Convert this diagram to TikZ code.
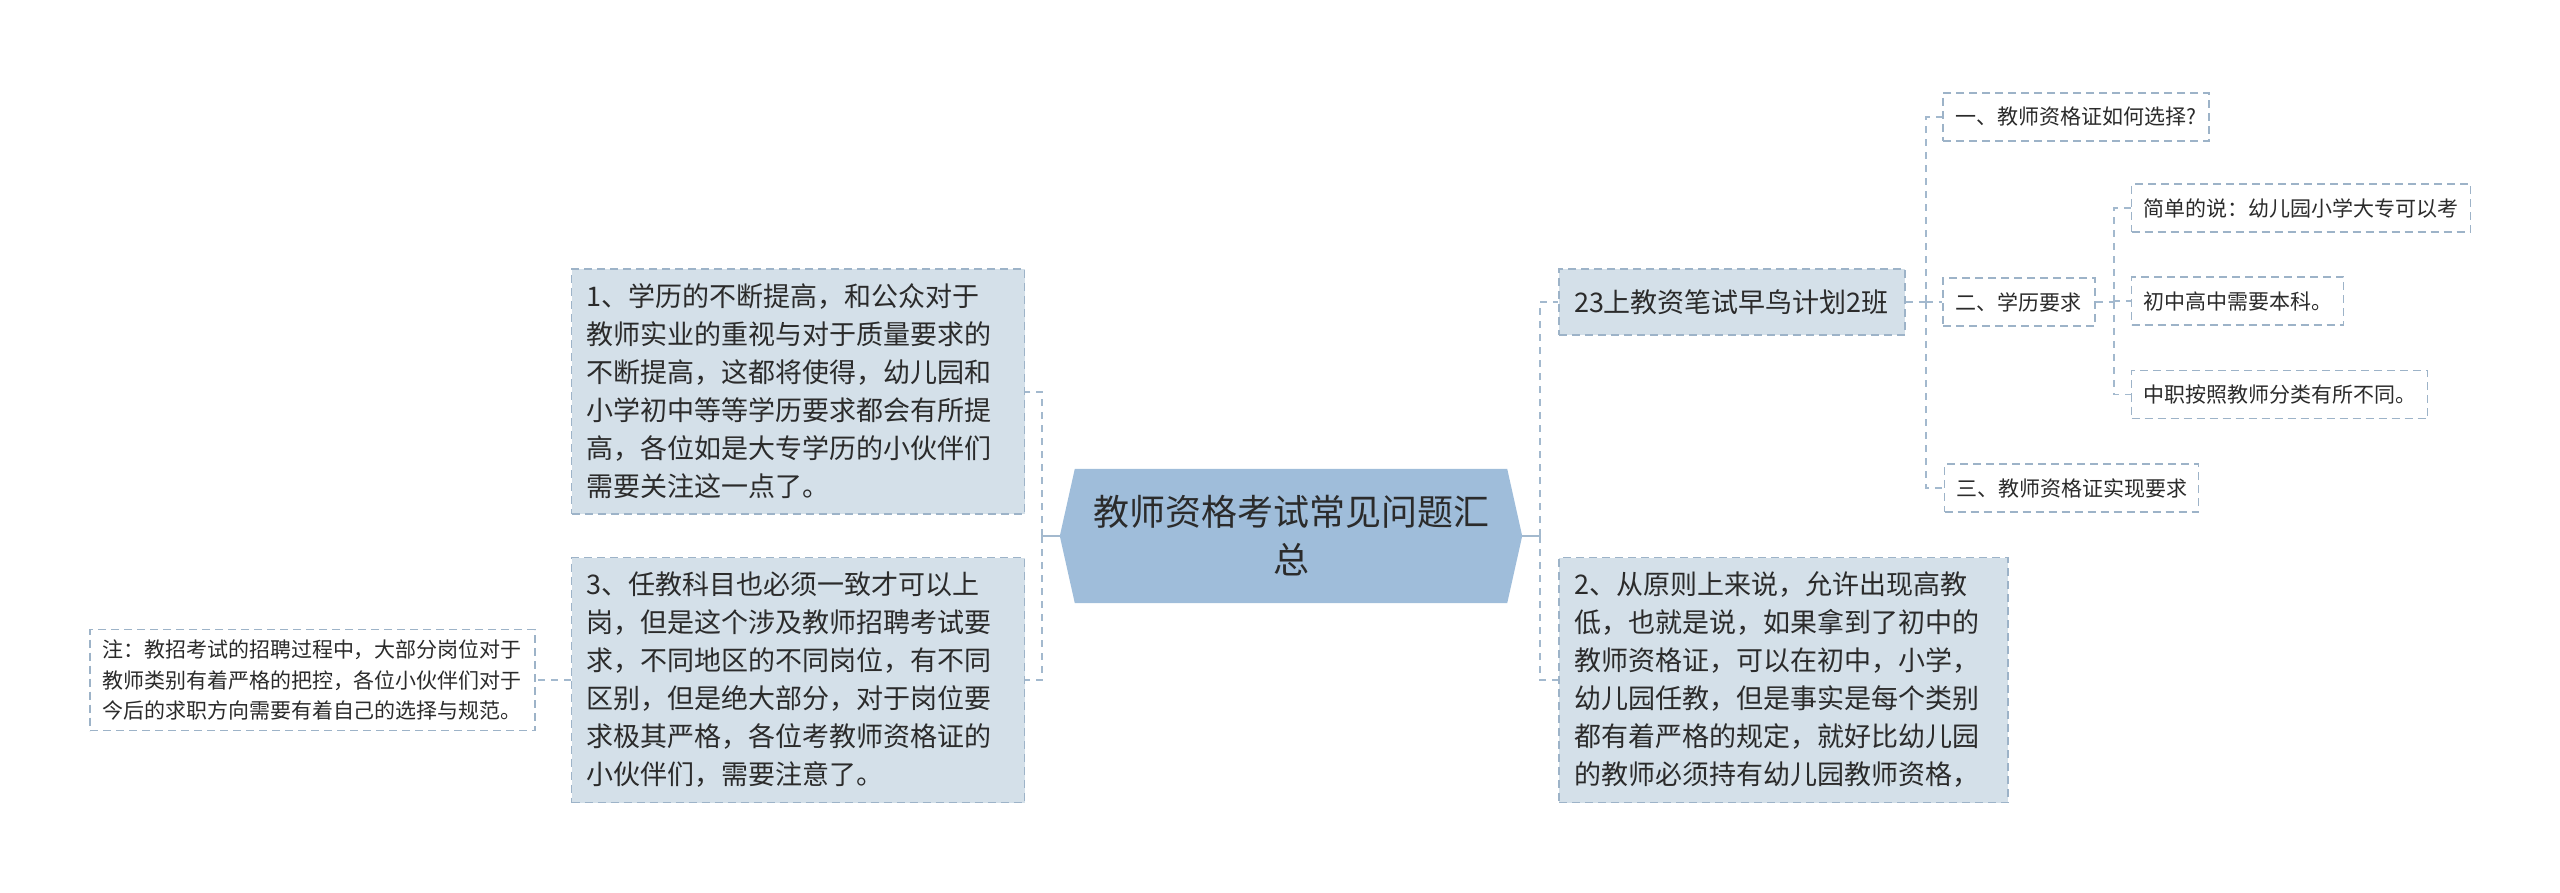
\documentclass[tikz,border=0pt]{standalone}
\usepackage{fontspec}
\setmainfont{Noto Sans CJK SC}
\usetikzlibrary{backgrounds}
\definecolor{boxfill}{HTML}{D4E0E9}
\definecolor{bordercol}{HTML}{9DB3C8}
\definecolor{rootfill}{HTML}{9FBDDA}
\definecolor{linecol}{HTML}{A3B9CE}
\definecolor{txt}{HTML}{2B2B2B}
\tikzset{
  bigbox/.style={draw=bordercol, fill=boxfill, line width=1.5pt, dash pattern=on 8pt off 5pt,
    inner xsep=15pt, inner ysep=0pt, align=left, text=txt,
    font=\fontsize{27}{38}\selectfont},
  smallbox/.style={draw=bordercol, fill=white, line width=1.5pt, dash pattern=on 8pt off 5pt,
    inner xsep=12pt, inner ysep=0pt, align=left, text=txt, minimum height=48pt,
    font=\fontsize{21}{30}\selectfont},
  rootnode/.style={inner sep=0pt, minimum width=462pt, minimum height=134pt, align=center,
    text=txt, font=\fontsize{36}{48}\selectfont},
  mainconn/.style={draw=linecol, line width=2.2pt},
  conn/.style={draw=linecol, line width=2pt, dash pattern=on 7pt off 6pt},
  subconn/.style={draw=linecol, line width=1.6pt, dash pattern=on 7pt off 6pt},
}
\begin{document}
\begin{tikzpicture}[x=1pt,y=-1pt]
\useasboundingbox (0,0) rectangle (2560,893);

% root
\node[rootnode] (root) at (1291,536) {教师资格考试常见问题汇\\总};
\begin{scope}[on background layer]
\fill[rootfill] (root.west) -- ([xshift=15pt]root.north west) -- ([xshift=-15pt]root.north east)
  -- (root.east) -- ([xshift=-15pt]root.south east) -- ([xshift=15pt]root.south west) -- cycle;
\end{scope}

% left big nodes
\node[bigbox, text width=423pt, minimum height=245pt] (n1) at (798,391.5)
 {1、学历的不断提高，和公众对于\\教师实业的重视与对于质量要求的\\不断提高，这都将使得，幼儿园和\\小学初中等等学历要求都会有所提\\高，各位如是大专学历的小伙伴们\\需要关注这一点了。};
\node[bigbox, text width=423pt, minimum height=245pt] (n3) at (798,680)
 {3、任教科目也必须一致才可以上\\岗，但是这个涉及教师招聘考试要\\求，不同地区的不同岗位，有不同\\区别，但是绝大部分，对于岗位要\\求极其严格，各位考教师资格证的\\小伙伴们，需要注意了。};
\node[smallbox, text width=421pt, minimum height=101pt, font=\fontsize{21}{30.5}\selectfont] (note) at (312.5,680)
 {注：教招考试的招聘过程中，大部分岗位对于\\教师类别有着严格的把控，各位小伙伴们对于\\今后的求职方向需要有着自己的选择与规范。};

% right big nodes
\node[bigbox, text width=316pt, minimum height=66pt, inner xsep=15pt] (n23) at (1732,302)
 {23上教资笔试早鸟计划2班};
\node[bigbox, text width=419pt, minimum height=245pt] (n2) at (1783.5,680)
 {2、从原则上来说，允许出现高教\\低，也就是说，如果拿到了初中的\\教师资格证，可以在初中，小学，\\幼儿园任教，但是事实是每个类别\\都有着严格的规定，就好比幼儿园\\的教师必须持有幼儿园教师资格，};

% small right nodes
\node[smallbox, text width=242pt] (s1) at (2076,117) {一、教师资格证如何选择?};
\node[smallbox, text width=128pt] (s2) at (2019,302) {二、学历要求};
\node[smallbox, text width=230pt] (s3) at (2071.5,488) {三、教师资格证实现要求};
\node[smallbox, text width=315pt] (t1) at (2301,208) {简单的说：幼儿园小学大专可以考};
\node[smallbox, text width=188pt] (t2) at (2237.5,301) {初中高中需要本科。};
\node[smallbox, text width=272pt] (t3) at (2279.5,394.5) {中职按照教师分类有所不同。};

% connectors: root left
\draw[mainconn] (root.west) -- ++(-18,0) coordinate (lb);
\draw[conn] (lb) |- (n1.east);
\draw[conn] (lb) |- (n3.east);
% root right
\draw[mainconn] (root.east) -- ++(18,0) coordinate (rb);
\draw[conn] (rb) |- (n23.west);
\draw[conn] (rb) |- (n2.west);
% note
\draw[subconn] (n3.west) -- (note.east);
% 23 node children
\draw[subconn] (n23.east) -- ++(20,0) coordinate (b23);
\draw[subconn] (b23) |- (s1.west);
\draw[subconn] (b23) |- (s2.west);
\draw[subconn] (b23) |- (s3.west);
% s2 children
\draw[subconn] (s2.east) -- ++(18,0) coordinate (bs2);
\draw[subconn] (bs2) |- (t1.west);
\draw[subconn] (bs2) |- (t2.west);
\draw[subconn] (bs2) |- (t3.west);
\end{tikzpicture}
\end{document}
